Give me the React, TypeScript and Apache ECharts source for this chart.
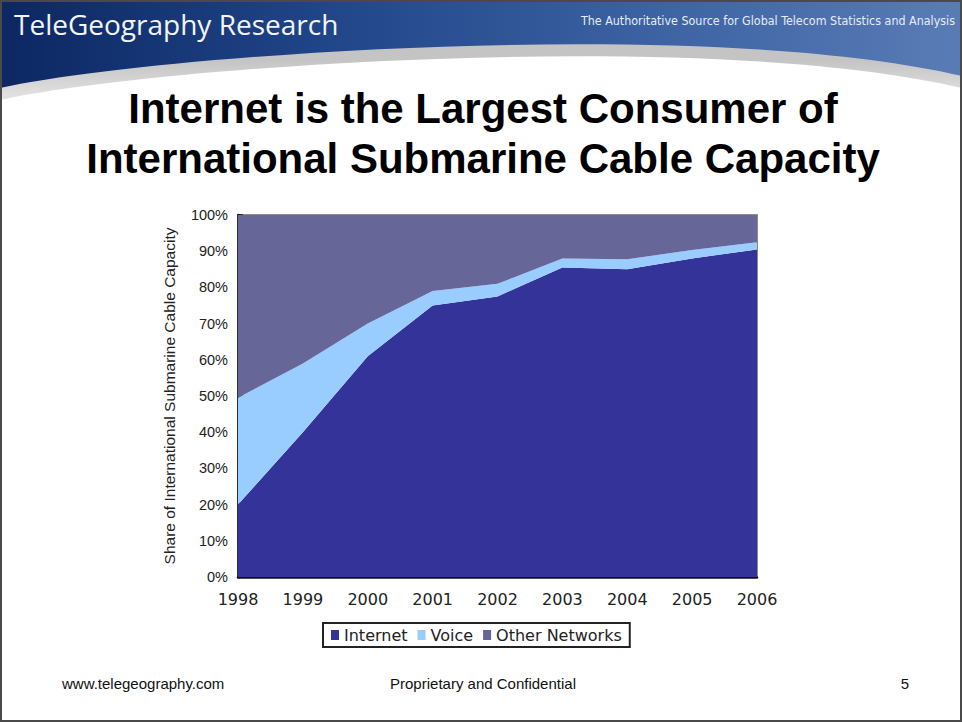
import React, { useEffect, useRef } from "react";
import * as echarts from "echarts";

const years = ["1998", "1999", "2000", "2001", "2002", "2003", "2004", "2005", "2006"];
const internetShare = [20, 40, 61, 75, 77.5, 85.5, 85, 88, 90.5];
const voiceShare = [29.5, 19, 9, 4, 3.5, 2.5, 2.8, 2.3, 2];
const otherShare = [50.5, 41, 30, 21, 19, 12, 12.2, 9.7, 7.5];
const seriesNames = ["Internet", "Voice", "Other Networks"];
const yTickValues = [0, 10, 20, 30, 40, 50, 60, 70, 80, 90, 100];

const titleLines = ["Internet is the Largest Consumer of", "International Submarine Cable Capacity"];
const headerTitle = "TeleGeography Research";
const headerTagline = "The Authoritative Source for Global Telecom Statistics and Analysis";
const footerLeft = "www.telegeography.com";
const footerMid = "Proprietary and Confidential";
const footerRight = "5";

echarts.graphic.registerShape(
  "hdrBlue",
  echarts.graphic.extendPath("M0 0 H962 V76 C700 15 150 55 0 88 Z", {})
);
echarts.graphic.registerShape(
  "hdrGray",
  echarts.graphic.extendPath("M0 0 H962 V88 C700 27 150 67 0 100 Z", {})
);

export default function App() {
  const ref = useRef<HTMLDivElement>(null);

  useEffect(() => {
    if (!ref.current) return;
    const chart = echarts.init(ref.current, null, { renderer: "svg" });
    const colors = ["#333399", "#99CCFF", "#666699"];
    const values = [internetShare, voiceShare, otherShare];

    const option: any = {
      animation: false,
      backgroundColor: "#ffffff",
      graphic: [
        {
          type: "hdrGray",
          z: 0,
          shape: {},
          style: {
            fill: new echarts.graphic.LinearGradient(0, 0, 0, 1, [
              { offset: 0.6, color: "#c4c4c4" },
              { offset: 1, color: "#e4e4e4" },
            ]),
          },
        },
        {
          type: "hdrBlue",
          z: 1,
          shape: {},
          style: {
            fill: new echarts.graphic.LinearGradient(0, 0, 1, 0, [
              { offset: 0, color: "#0c2762" },
              { offset: 0.35, color: "#21468a" },
              { offset: 0.7, color: "#3e64a4" },
              { offset: 1, color: "#5a7cb6" },
            ]),
          },
        },
        {
          type: "text",
          z: 2,
          x: 14,
          y: 24,
          style: {
            text: headerTitle,
            fill: "#f2f4f8",
            font: "28px 'Open Sans', sans-serif",
            textAlign: "left",
            textVerticalAlign: "middle",
          },
        },
        {
          type: "text",
          z: 2,
          x: 955,
          y: 20,
          style: {
            text: headerTagline,
            fill: "#e6ecf6",
            font: "12.4px 'DejaVu Sans Condensed', 'DejaVu Sans', sans-serif",
            textAlign: "right",
            textVerticalAlign: "middle",
          },
        },
        {
          type: "text",
          z: 2,
          x: 483,
          y: 108,
          style: {
            text: titleLines[0],
            fill: "#000",
            font: "bold 42px 'Liberation Sans', Arial, sans-serif",
            textAlign: "center",
            textVerticalAlign: "middle",
          },
        },
        {
          type: "text",
          z: 2,
          x: 483,
          y: 158,
          style: {
            text: titleLines[1],
            fill: "#000",
            font: "bold 42px 'Liberation Sans', Arial, sans-serif",
            textAlign: "center",
            textVerticalAlign: "middle",
          },
        },
        {
          type: "text",
          z: 2,
          x: 62,
          y: 683,
          style: {
            text: footerLeft,
            fill: "#111",
            font: "15px 'Liberation Sans', Arial, sans-serif",
            textAlign: "left",
            textVerticalAlign: "middle",
          },
        },
        {
          type: "text",
          z: 2,
          x: 483,
          y: 683,
          style: {
            text: footerMid,
            fill: "#111",
            font: "15px 'Liberation Sans', Arial, sans-serif",
            textAlign: "center",
            textVerticalAlign: "middle",
          },
        },
        {
          type: "text",
          z: 2,
          x: 905,
          y: 683,
          style: {
            text: footerRight,
            fill: "#111",
            font: "15px 'Liberation Sans', Arial, sans-serif",
            textAlign: "center",
            textVerticalAlign: "middle",
          },
        },
        {
          type: "rect",
          z: 10,
          shape: { x: 1, y: 1, width: 960, height: 720 },
          style: { fill: "none", stroke: "#4a4a4a", lineWidth: 2 },
        },
      ],
      grid: {
        left: 238,
        top: 215,
        right: 205,
        bottom: 145,
        show: true,
        borderColor: "#8c8c8c",
        borderWidth: 2,
      },
      legend: {
        data: seriesNames,
        left: 323,
        top: 623,
        icon: "rect",
        itemWidth: 8,
        itemHeight: 10,
        itemGap: 10,
        padding: [4, 8],
        borderColor: "#222",
        borderWidth: 2,
        backgroundColor: "#fff",
        textStyle: {
          fontFamily: "'DejaVu Sans', sans-serif",
          fontSize: 16,
          color: "#222",
        },
      },
      xAxis: {
        type: "category",
        data: years,
        boundaryGap: false,
        axisLine: { show: true, lineStyle: { color: "#111", width: 2.5 } },
        axisTick: { show: false },
        axisLabel: {
          fontFamily: "'DejaVu Sans', sans-serif",
          fontSize: 16,
          color: "#222",
          margin: 14,
        },
        splitLine: { show: false },
      },
      yAxis: {
        type: "value",
        min: yTickValues[0],
        max: yTickValues[yTickValues.length - 1],
        interval: yTickValues[1] - yTickValues[0],
        name: "Share of International Submarine Cable Capacity",
        nameLocation: "middle",
        nameRotate: 90,
        nameGap: 61,
        nameTextStyle: {
          fontFamily: "'Liberation Sans', Arial, sans-serif",
          fontSize: 15.5,
          color: "#222",
        },
        axisLine: { show: true, lineStyle: { color: "#111", width: 2.5 } },
        axisTick: { show: true, inside: true, length: 5, lineStyle: { color: "#111", width: 1.5 } },
        axisLabel: {
          formatter: "{value}%",
          fontFamily: "'Liberation Sans', Arial, sans-serif",
          fontSize: 14.5,
          color: "#222",
          margin: 10,
        },
        splitLine: { show: false },
      },
      series: seriesNames.map((name, i) => ({
        name,
        type: "line",
        stack: "total",
        data: values[i],
        color: colors[i],
        symbol: "none",
        showSymbol: false,
        lineStyle: { width: 0, color: colors[i] },
        areaStyle: { color: colors[i], opacity: 1 },
        z: 2,
      })),
    };

    chart.setOption(option);
    return () => chart.dispose();
  }, []);

  return (
    <div
      ref={ref}
      style={{ position: "absolute", left: 0, top: 0, width: 962, height: 722, background: "#fff" }}
    />
  );
}
